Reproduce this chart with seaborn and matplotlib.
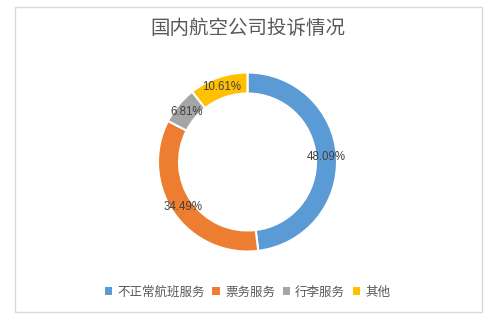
import matplotlib
matplotlib.use("Agg")
import matplotlib.pyplot as plt
import seaborn as sns
from matplotlib.patches import Rectangle
import numpy as np

# Chart data
categories = ['不正常航班服务', '票务服务', '行李服务', '其他']
shares = [48.09, 34.49, 6.81, 10.61]
labels = ['48.09%', '34.49%', '6.81%', '10.61%']
colors = ['#5B9BD5', '#ED7D31', '#A5A5A5', '#FFC000']

sns.set_theme(style='white')
plt.rcParams['font.family'] = ['Noto Sans CJK SC', 'DejaVu Sans']

W, H = 491, 322
fig = plt.figure(figsize=(W / 100, H / 100), dpi=100)
fig.patch.set_facecolor('white')

# outer chart border
fig.patches.append(Rectangle((15 / W, 1 - 312 / H), 467 / W, 305 / H,
                             transform=fig.transFigure, fill=False,
                             edgecolor='#D9D9D9', linewidth=1))

# donut axes: 200x200 px box centred on (247.5, 162)
cx, cy, box = 247.5, 162, 200
ax = fig.add_axes([(cx - box / 2) / W, 1 - (cy + box / 2) / H, box / W, box / H])
r_out = 89.5 / (box / 2)
r_in = 68.5 / (box / 2)
width = r_out - r_in

wedges, _ = ax.pie(shares, colors=colors, startangle=90, counterclock=False,
                   radius=r_out,
                   wedgeprops=dict(width=width, edgecolor='white', linewidth=1.5))
ax.set_xlim(-1, 1)
ax.set_ylim(-1, 1)
ax.set_aspect('equal')
ax.axis('off')

# percentage labels at mid-ring
r_lab = (r_out + r_in) / 2
for w, lab in zip(wedges, labels):
    ang = np.deg2rad((w.theta1 + w.theta2) / 2)
    ax.text(r_lab * np.cos(ang), r_lab * np.sin(ang), lab,
            ha='center', va='center', fontsize=8.3, color='#404040',
            family=['Liberation Sans', 'DejaVu Sans'])

fig.text(cx / W, 1 - 29 / H, '国内航空公司投诉情况', ha='center', va='center',
         fontsize=14, color='#595959')

handles = [Rectangle((0, 0), 1, 1, facecolor=c, edgecolor='none') for c in colors]
fig.legend(handles, categories, loc='center', bbox_to_anchor=(cx / W, 1 - 292 / H),
           ncol=4, frameon=False, fontsize=9, labelcolor='#595959',
           handlelength=0.6, handleheight=0.6, handletextpad=0.4, columnspacing=0.6)

fig.savefig('out.png', dpi=100, facecolor='white')
